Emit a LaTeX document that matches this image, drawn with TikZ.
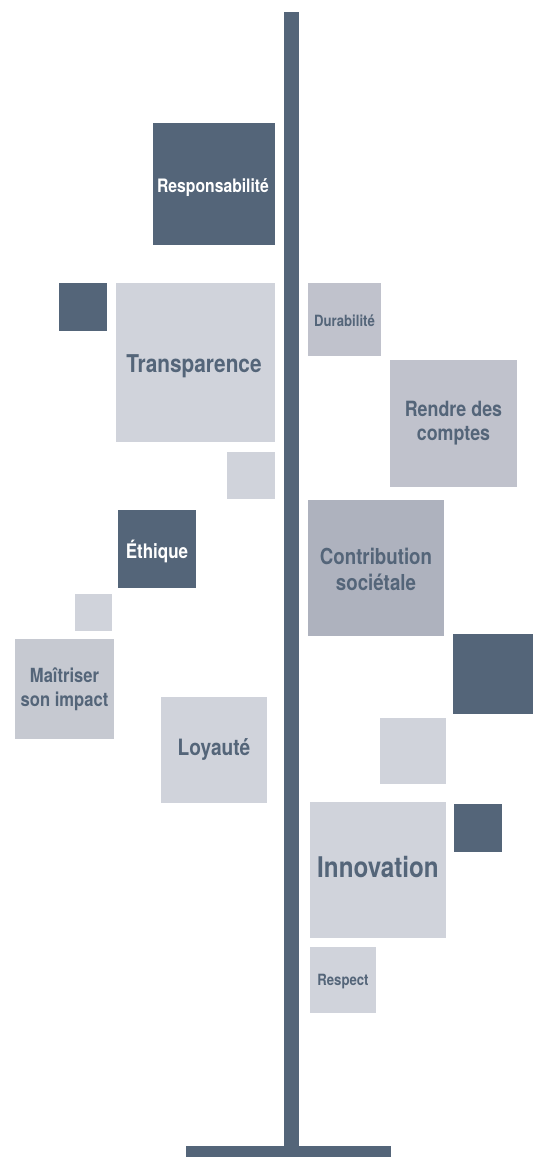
\documentclass[tikz,border=0pt]{standalone}
\usepackage{fontspec}
\setmainfont{TeX Gyre Heros}[FakeStretch=0.85]
\definecolor{slate}{HTML}{546579}
\definecolor{paleA}{HTML}{D0D3DB}
\definecolor{paleB}{HTML}{C0C2CC}
\definecolor{paleC}{HTML}{C6C9D1}
\definecolor{midgrey}{HTML}{AEB2BE}
\tikzset{
  word/.style={anchor=base, inner sep=0pt, align=center, font=\bfseries, text=slate},
  wordlight/.style={word, text=white},
}
\begin{document}
\begin{tikzpicture}[x=1pt, y=-1pt]
\useasboundingbox (0,0) rectangle (541,1157);
\fill[white] (0,0) rectangle (541,1157);

% trunk and foot
\fill[slate] (284,12) rectangle (299,1148);
\fill[slate] (186,1146) rectangle (391,1157);

% left side squares
\fill[slate]  (153,123) rectangle (275,245);
\fill[slate]  (59,283)  rectangle (107,331);
\fill[paleA]  (116,283) rectangle (275,442);
\fill[paleA]  (227,452) rectangle (275,499);
\fill[slate]  (118,510) rectangle (196,588);
\fill[paleA]  (75,594)  rectangle (112,631);
\fill[paleC]  (15,639)  rectangle (114,739);
\fill[paleA]  (161,697) rectangle (267,803);

% right side squares
\fill[paleB]  (308,283) rectangle (381,356);
\fill[paleB]  (390,360) rectangle (517,487);
\fill[midgrey](308,500) rectangle (444,636);
\fill[slate]  (453,634) rectangle (533,714);
\fill[paleA]  (380,718) rectangle (446,784);
\fill[paleA]  (310,802) rectangle (446,938);
\fill[slate]  (454,804) rectangle (502,852);
\fill[paleA]  (310,947) rectangle (376,1013);

% labels (multi-line labels sit on the baseline of their last line)
\node[wordlight, font=\bfseries\fontsize{18.5}{20}\selectfont] (resp) at (213,192) {Responsabilité};
\node[word, font=\bfseries\fontsize{24.5}{26}\selectfont] (transp) at (194,372.3) {Transparence};
\node[word, font=\bfseries\fontsize{15.5}{17}\selectfont] (dura) at (344.5,326) {Durabilité};
\node[word, font=\bfseries\fontsize{21}{23.3}\selectfont] (rendre) at (453.5,440) {Rendre des\\comptes};
\node[wordlight, font=\bfseries\fontsize{20}{22}\selectfont] (ethique) at (157,558.3) {Éthique};
\node[word, font=\bfseries\fontsize{22}{26}\selectfont] (contrib) at (376,590) {Contribution\\sociétale};
\node[word, font=\bfseries\fontsize{19.5}{24}\selectfont] (maitriser) at (64.5,706.7) {Maîtriser\\son impact};
\node[word, font=\bfseries\fontsize{22.5}{24}\selectfont] (loyaute) at (214,755) {Loyauté};
\node[word, font=\bfseries\fontsize{28.5}{30}\selectfont] (innov) at (378,877.3) {Innovation};
\node[word, font=\bfseries\fontsize{15.5}{17}\selectfont] (respect) at (343,985) {Respect};
\end{tikzpicture}
\end{document}
